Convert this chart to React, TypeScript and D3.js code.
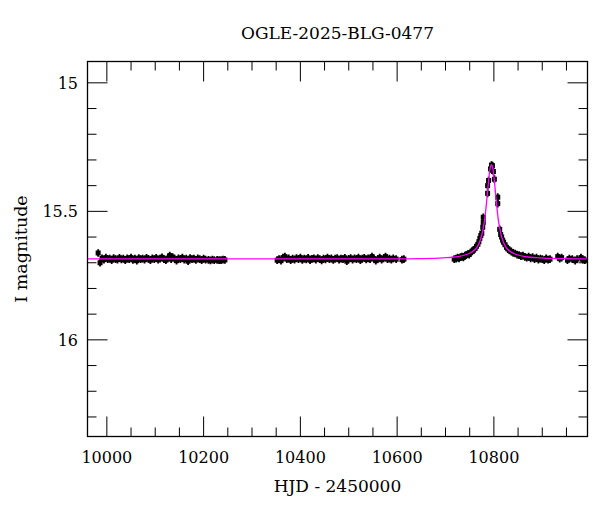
import { useEffect, useRef } from 'react';
import * as d3 from 'd3';

const title = 'OGLE-2025-BLG-0477';
const xLabel = 'HJD - 2450000';
const yLabel = 'I magnitude';

const xMajorTicks = [10000, 10200, 10400, 10600, 10800];
const xMinorTicks = [10050, 10100, 10150, 10250, 10300, 10350, 10450, 10500, 10550, 10650, 10700, 10750, 10850, 10900, 10950];
const yMajorTicks = [15, 15.5, 16];
const yMinorTicks = [15.1, 15.2, 15.3, 15.4, 15.6, 15.7, 15.8, 15.9, 16.1, 16.2, 16.3];

// season 1
const s1Days = [9982, 9986, 9990, 9994, 9998, 10002, 10006, 10010, 10014, 10018, 10022, 10026, 10030, 10034, 10038, 10042, 10046, 10050, 10054, 10058, 10062, 10066, 10070, 10074, 10078, 10082, 10086, 10090, 10094, 10098, 10102, 10106, 10110, 10114, 10118, 10122, 10126, 10130, 10133, 10136, 10140, 10144, 10148, 10152, 10156, 10160, 10164, 10168, 10172, 10176, 10180, 10184, 10188, 10192, 10196, 10200, 10204, 10210, 10214, 10218, 10222, 10228, 10232, 10236, 10240, 10244];
const s1Mags = [15.662, 15.700, 15.683, 15.688, 15.680, 15.686, 15.684, 15.690, 15.682, 15.686, 15.688, 15.681, 15.687, 15.684, 15.690, 15.683, 15.686, 15.680, 15.689, 15.684, 15.692, 15.682, 15.686, 15.684, 15.688, 15.681, 15.685, 15.690, 15.683, 15.686, 15.681, 15.688, 15.684, 15.679, 15.686, 15.690, 15.682, 15.672, 15.686, 15.678, 15.684, 15.692, 15.683, 15.686, 15.680, 15.688, 15.684, 15.694, 15.682, 15.686, 15.684, 15.689, 15.683, 15.686, 15.690, 15.684, 15.688, 15.689, 15.691, 15.688, 15.690, 15.689, 15.690, 15.690, 15.688, 15.689];

// season 2
const s2Days = [10352, 10356, 10360, 10364, 10368, 10372, 10376, 10380, 10384, 10388, 10392, 10396, 10400, 10404, 10408, 10412, 10416, 10420, 10424, 10428, 10432, 10436, 10440, 10444, 10448, 10452, 10456, 10460, 10464, 10468, 10472, 10476, 10480, 10484, 10488, 10492, 10496, 10500, 10504, 10508, 10512, 10516, 10520, 10524, 10528, 10532, 10536, 10540, 10544, 10548, 10552, 10556, 10560, 10564, 10568, 10572, 10576, 10580, 10584, 10588, 10592, 10598, 10610, 10614];
const s2Mags = [15.690, 15.686, 15.692, 15.680, 15.676, 15.686, 15.683, 15.690, 15.684, 15.688, 15.682, 15.686, 15.680, 15.689, 15.684, 15.687, 15.681, 15.690, 15.685, 15.683, 15.688, 15.682, 15.686, 15.691, 15.684, 15.687, 15.680, 15.686, 15.683, 15.689, 15.684, 15.682, 15.688, 15.684, 15.686, 15.681, 15.694, 15.685, 15.682, 15.688, 15.683, 15.686, 15.680, 15.690, 15.684, 15.681, 15.687, 15.683, 15.686, 15.676, 15.684, 15.692, 15.686, 15.680, 15.688, 15.683, 15.676, 15.686, 15.684, 15.688, 15.683, 15.686, 15.688, 15.686];

// season 3 (event)
const s3Days = [10718, 10722, 10725, 10728, 10731, 10734, 10737, 10740, 10743, 10746, 10749, 10752, 10755, 10758, 10761, 10764, 10767, 10769, 10771, 10773, 10775, 10777, 10778, 10778, 10787, 10787, 10789, 10793, 10795, 10797, 10799, 10801, 10808, 10808, 10812, 10814, 10816, 10818, 10820, 10823, 10826, 10829, 10832, 10836, 10840, 10844, 10848, 10852, 10856, 10860, 10864, 10868, 10872, 10876, 10880, 10884, 10888, 10892, 10896, 10900, 10904, 10908, 10912, 10916, 10932, 10936, 10940, 10952, 10956, 10962, 10968, 10972, 10980, 10984, 10988];
const s3Mags = [15.686, 15.684, 15.680, 15.683, 15.678, 15.676, 15.679, 15.672, 15.670, 15.666, 15.668, 15.660, 15.656, 15.650, 15.645, 15.636, 15.628, 15.618, 15.605, 15.594, 15.585, 15.562, 15.523, 15.543, 15.400, 15.430, 15.380, 15.335, 15.320, 15.322, 15.345, 15.375, 15.445, 15.470, 15.570, 15.590, 15.600, 15.612, 15.620, 15.630, 15.640, 15.646, 15.652, 15.656, 15.662, 15.664, 15.668, 15.670, 15.674, 15.672, 15.677, 15.680, 15.676, 15.683, 15.678, 15.686, 15.680, 15.688, 15.684, 15.686, 15.690, 15.683, 15.688, 15.686, 15.676, 15.684, 15.680, 15.690, 15.684, 15.686, 15.692, 15.686, 15.680, 15.688, 15.690];

// model curve
const modelDays = [9960, 10600, 10645, 10695, 10725, 10745, 10757, 10765, 10771, 10775, 10778, 10781, 10783, 10785, 10787, 10789, 10791, 10793, 10795, 10797, 10799, 10801, 10803, 10805, 10807, 10809, 10812, 10815, 10819, 10825, 10833, 10845, 10865, 10895, 10945, 10993];
const modelMags = [15.685, 15.685, 15.684, 15.681, 15.676, 15.667, 15.655, 15.640, 15.616, 15.592, 15.565, 15.530, 15.498, 15.462, 15.422, 15.382, 15.348, 15.326, 15.318, 15.326, 15.348, 15.382, 15.422, 15.462, 15.498, 15.530, 15.565, 15.592, 15.616, 15.640, 15.655, 15.667, 15.676, 15.681, 15.684, 15.685];

export default function App() {
  const ref = useRef(null);

  useEffect(() => {
    const root = d3.select(ref.current);
    root.selectAll('*').remove();

    const W = 600, H = 512;
    const left = 87.5, right = 587.5, top = 61.5, bottom = 436.5;
    const font = '"DejaVu Serif", serif';

    const svg = root.append('svg')
      .attr('width', W)
      .attr('height', H)
      .style('display', 'block')
      .style('background', '#fff');

    const x = d3.scaleLinear().domain([9960, 10993.5]).range([left, right]);
    const y = d3.scaleLinear().domain([14.917, 16.376]).range([top, bottom]);

    const points = [
      ...s1Days.map((d, i) => ({ t: d, m: s1Mags[i] })),
      ...s2Days.map((d, i) => ({ t: d, m: s2Mags[i] })),
      ...s3Days.map((d, i) => ({ t: d, m: s3Mags[i] })),
    ];

    svg.append('clipPath').attr('id', 'plotclip')
      .append('rect')
      .attr('x', left).attr('y', top)
      .attr('width', right - left).attr('height', bottom - top);

    const plot = svg.append('g').attr('clip-path', 'url(#plotclip)');

    // error bars + squares
    plot.selectAll('.err')
      .data(points)
      .enter().append('line')
      .attr('x1', d => x(d.t)).attr('x2', d => x(d.t))
      .attr('y1', d => y(d.m - 0.015)).attr('y2', d => y(d.m + 0.015))
      .attr('stroke', '#000')
      .attr('stroke-width', 1.8);

    plot.selectAll('.pt')
      .data(points)
      .enter().append('rect')
      .attr('x', d => x(d.t) - 2.5)
      .attr('y', d => y(d.m) - 2.5)
      .attr('width', 5)
      .attr('height', 5)
      .attr('fill', '#000');

    // model
    const line = d3.line<number>()
      .x((d, i) => x(modelDays[i]))
      .y(d => y(d))
      .curve(d3.curveMonotoneX);

    plot.append('path')
      .datum(modelMags)
      .attr('fill', 'none')
      .attr('stroke', '#ff00ff')
      .attr('stroke-width', 1.3)
      .attr('d', line);

    // frame
    svg.append('rect')
      .attr('x', left).attr('y', top)
      .attr('width', right - left).attr('height', bottom - top)
      .attr('fill', 'none')
      .attr('stroke', '#000')
      .attr('stroke-width', 1.3);

    const ticks = svg.append('g').attr('stroke', '#000').attr('stroke-width', 1);
    const addX = (vals, len) => {
      vals.forEach(v => {
        ticks.append('line').attr('x1', x(v)).attr('x2', x(v)).attr('y1', bottom).attr('y2', bottom - len);
        ticks.append('line').attr('x1', x(v)).attr('x2', x(v)).attr('y1', top).attr('y2', top + len);
      });
    };
    const addY = (vals, len) => {
      vals.forEach(v => {
        ticks.append('line').attr('y1', y(v)).attr('y2', y(v)).attr('x1', left).attr('x2', left + len);
        ticks.append('line').attr('y1', y(v)).attr('y2', y(v)).attr('x1', right).attr('x2', right - len);
      });
    };
    addX(xMajorTicks, 20);
    addX(xMinorTicks, 9);
    addY(yMajorTicks, 20);
    addY(yMinorTicks, 9);

    // tick labels
    svg.append('g')
      .selectAll('text')
      .data(xMajorTicks)
      .enter().append('text')
      .attr('x', d => x(d))
      .attr('y', 462.5)
      .attr('text-anchor', 'middle')
      .attr('font-family', font)
      .attr('font-size', 16)
      .attr('fill', '#000')
      .text(d => d);

    svg.append('g')
      .selectAll('text')
      .data(yMajorTicks)
      .enter().append('text')
      .attr('x', 78)
      .attr('y', d => y(d) + 6)
      .attr('text-anchor', 'end')
      .attr('font-family', font)
      .attr('font-size', 16)
      .attr('fill', '#000')
      .text(d => d);

    // titles
    svg.append('text')
      .attr('x', (left + right) / 2)
      .attr('y', 39)
      .attr('text-anchor', 'middle')
      .attr('font-family', font)
      .attr('font-size', 17)
      .attr('fill', '#000')
      .text(title);

    svg.append('text')
      .attr('x', (left + right) / 2)
      .attr('y', 491.5)
      .attr('text-anchor', 'middle')
      .attr('font-family', font)
      .attr('font-size', 17)
      .attr('fill', '#000')
      .text(xLabel);

    svg.append('text')
      .attr('transform', `translate(27,${(top + bottom) / 2}) rotate(-90)`)
      .attr('text-anchor', 'middle')
      .attr('font-family', font)
      .attr('font-size', 17.5)
      .attr('fill', '#000')
      .text(yLabel);
  }, []);

  return <div ref={ref} style={{ position: 'absolute', left: 0, top: 0 }} />;
}
